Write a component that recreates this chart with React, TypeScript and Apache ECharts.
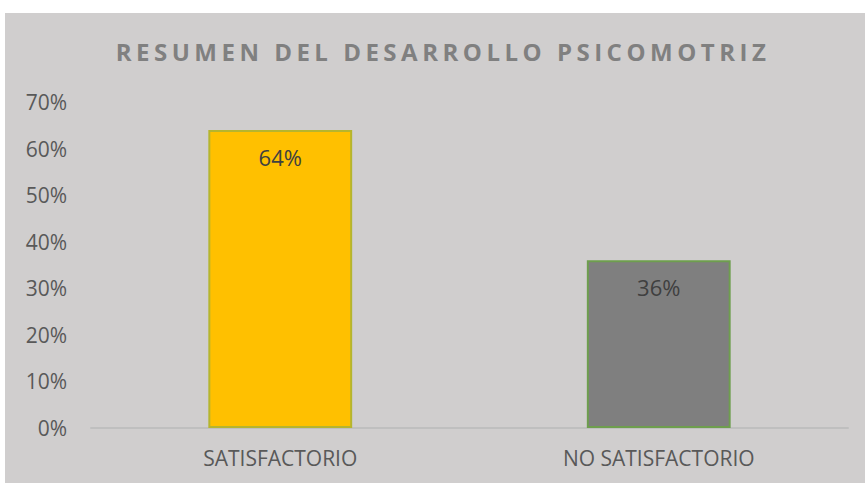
import React, { useEffect, useRef } from "react";
import * as echarts from "echarts";

const categories = ["SATISFACTORIO", "NO SATISFACTORIO"];
const values = [0.64, 0.36];
const barColors = ["#FFC000", "#7F7F7F"];
const barBorders = ["#B5B52E", "#6E9E4E"];
const yTicks = [0, 0.1, 0.2, 0.3, 0.4, 0.5, 0.6, 0.7];
const titleText = "RESUMEN DEL DESARROLLO PSICOMOTRIZ";

export default function App() {
  const ref = useRef<HTMLDivElement>(null);
  useEffect(() => {
    document.body.style.margin = "0";
    const el = ref.current!;
    const chart = echarts.init(el, null, { renderer: "svg" });
    const font = "'Open Sans', sans-serif";
    chart.setOption({
      animation: false,
      backgroundColor: "#D0CECE",
      title: {
        text: titleText,
        left: "center",
        top: 21,
        textStyle: { fontFamily: font, fontSize: 24, fontWeight: "bold", color: "#808080" },
      },
      grid: { left: 86, right: 17, top: 89, bottom: 55 },
      xAxis: {
        type: "category",
        data: categories,
        axisLine: { lineStyle: { color: "#BFBFBF", width: 2 } },
        axisTick: { show: false },
        axisLabel: { fontFamily: font, fontSize: 21, color: "#595959", margin: 19 },
      },
      yAxis: {
        type: "value",
        min: yTicks[0],
        max: yTicks[yTicks.length - 1],
        interval: 0.1,
        splitLine: { show: false },
        axisLine: { show: false },
        axisTick: { show: false },
        axisLabel: {
          fontFamily: font,
          fontSize: 21,
          color: "#595959",
          margin: 24,
          formatter: (v: number) => Math.round(v * 100) + "%",
        },
      },
      series: [
        {
          type: "bar",
          barWidth: "38%",
          data: values.map((v, i) => ({
            value: v,
            itemStyle: { color: barColors[i], borderColor: barBorders[i], borderWidth: 2 },
          })),
          label: {
            show: true,
            position: "insideTop",
            distance: 16,
            fontFamily: font,
            fontSize: 22,
            color: "#404040",
            formatter: (p: any) => Math.round(p.value * 100) + "%",
          },
        },
      ],
    });
    const texts = el.querySelectorAll("text");
    texts.forEach((t) => {
      if (t.textContent === titleText) {
        t.setAttribute("letter-spacing", "4.5px");
        t.setAttribute("dx", "8");
      }
    });
    return () => chart.dispose();
  }, []);
  return (
    <div style={{ width: 865, height: 483, background: "#fff", position: "relative" }}>
      <div ref={ref} style={{ position: "absolute", left: 5, top: 13, width: 860, height: 470 }} />
    </div>
  );
}
